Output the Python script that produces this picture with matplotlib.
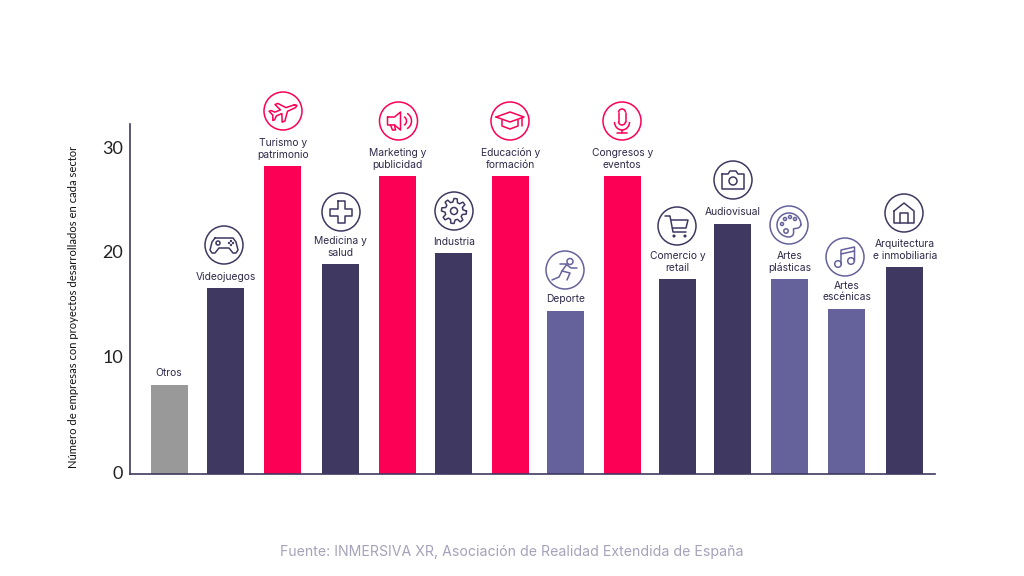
import numpy as np
import matplotlib
matplotlib.use("Agg")
import matplotlib.pyplot as plt
from matplotlib.patches import Circle, Arc
from matplotlib.transforms import ScaledTranslation

categories = ["Otros", "Videojuegos", "Turismo y\npatrimonio", "Medicina y\nsalud",
              "Marketing y\npublicidad", "Industria", "Educación y\nformación", "Deporte",
              "Congresos y\neventos", "Comercio y\nretail", "Audiovisual", "Artes\nplásticas",
              "Artes\nescénicas", "Arquitectura\ne inmobiliaria"]
values = [8.2, 17.1, 28.3, 19.3, 27.4, 20.3, 27.4, 15.0, 27.4, 17.9, 23.0, 17.9, 15.2, 19.0]
groups = ["o", "d", "p", "d", "p", "d", "p", "m", "p", "d", "d", "m", "m", "d"]
y_ticks = [0, 10, 20, 30]

PINK, DARK, MID, GREY = "#FB0055", "#3F3860", "#65629B", "#999999"
COLORS = {"o": GREY, "d": DARK, "p": PINK, "m": MID}
W, H = 1024, 576
LABEL_FONT = ["Inter", "DejaVu Sans"]

fig = plt.figure(figsize=(W / 100, H / 100), dpi=100, facecolor="white")
ax = fig.add_axes([129.5 / W, 1 - 474 / H, (935 - 129.5) / W, (474 - 124) / H])

# bars on the original are not evenly spaced, small shifts in pixels
nudge_px = np.array([0, 0, 0.3, 1.2, 2.1, 1.5, 1.4, 0.3, 0.2, -0.9, -2.5, -2.1, -1.7, -0.3])
x = np.arange(len(values)) + nudge_px / 56.6
ax.bar(x, values, width=0.65, color=[COLORS[g] for g in groups])
ax.set_xlim(-0.70, 13.53)
ax.set_ylim(0, 350 / 10.87)
ax.set_xticks([])
ax.set_yticks(y_ticks)
ax.tick_params(axis="y", length=0, pad=4.5, labelsize=13, labelcolor="#222222")
for lab in ax.get_yticklabels():
    lab.set_fontfamily("Lato")

# the labels on the original do not sit exactly on the scale
offsets = [1.3, 6, 3.4, 0]
for lab, dy in zip(ax.get_yticklabels(), offsets):
    lab.set_transform(lab.get_transform() + ScaledTranslation(0, dy / 72, fig.dpi_scale_trans))

for s in ["top", "right"]:
    ax.spines[s].set_visible(False)
for s in ["left", "bottom"]:
    ax.spines[s].set_color(DARK)
    ax.spines[s].set_linewidth(1.2)

for xi, name, val in zip(x, categories, values):
    ax.annotate(name, xy=(xi, val), xytext=(0, 6.5), textcoords="offset pixels",
                ha="center", va="bottom", fontsize=7.4, color="#2E2A4A",
                family=LABEL_FONT, linespacing=1.22)

fig.text(74 / W, 1 - 307 / H, "Número de empresas con proyectos desarrollados en cada sector",
         rotation=90, ha="center", va="center", fontsize=8.1, family="Lato", color="#111111")
fig.text(512 / W, 1 - 552 / H, "Fuente: INMERSIVA XR, Asociación de Realidad Extendida de España",
         ha="center", va="center", fontsize=10.2, family=LABEL_FONT, color="#A5A3BA")

# overlay in pixel coordinates for the pictograms
ov = fig.add_axes([0, 0, 1, 1], facecolor="none")
ov.set_xlim(0, W)
ov.set_ylim(H, 0)
ov.axis("off")


def line(cx, cy, pts, c, lw=1.1, closed=False):
    pts = np.array(pts, dtype=float)
    if closed:
        pts = np.vstack([pts, pts[0]])
    ov.plot(cx + pts[:, 0], cy + pts[:, 1], color=c, lw=lw, solid_capstyle="round",
            solid_joinstyle="round")


def circ(cx, cy, r, c, lw=1.1, fill="none"):
    ov.add_patch(Circle((cx, cy), r, fc=fill, ec=c, lw=lw))


def arc(cx, cy, w, h, a, b, c, lw=1.1):
    ov.add_patch(Arc((cx, cy), w, h, theta1=a, theta2=b, ec=c, lw=lw))


def plane(cx, cy, c):
    p = np.array([(13, -1.5), (4, -2), (-2, -9), (-5, -9), (-2, -2), (-8, -2), (-11, -5), (-13, -5),
                  (-11, 0), (-13, 5), (-11, 5), (-8, 2), (-2, 2), (-5, 10), (-2, 10), (4, 2),
                  (13, 1.5), (15, 0)], dtype=float)
    t = np.radians(-22)
    r = np.array([[np.cos(t), -np.sin(t)], [np.sin(t), np.cos(t)]])
    line(cx, cy, p @ r.T, c, closed=True)


def gamepad(cx, cy, c):
    line(cx, cy, [(-9, -7), (9, -7), (12, -3), (14, 5), (12, 8), (9, 8), (5, 3), (-5, 3), (-9, 8),
                  (-12, 8), (-14, 5), (-12, -3)], c, closed=True)
    circ(cx - 6, cy - 2, 2, c)
    for dx, dy in [(5, -2), (9, -2), (7, -4), (7, 0)]:
        circ(cx + dx, cy + dy, 0.6, c, lw=0.8, fill=c)


def cross(cx, cy, c):
    line(cx, cy, [(-3.5, -11), (3.5, -11), (3.5, -3.5), (11, -3.5), (11, 3.5), (3.5, 3.5), (3.5, 11),
                  (-3.5, 11), (-3.5, 3.5), (-11, 3.5), (-11, -3.5), (-3.5, -3.5)], c, closed=True)


def megaphone(cx, cy, c):
    line(cx, cy, [(-11, -4), (-4, -4), (2, -9), (2, 9), (-4, 4), (-11, 4)], c, closed=True)
    line(cx, cy, [(-8, 4), (-6, 9), (-3, 9), (-4, 4)], c)
    arc(cx + 4, cy, 8, 9, -70, 70, c)
    arc(cx + 5, cy, 16, 17, -65, 65, c)


def gear(cx, cy, c):
    ang = np.linspace(0, 2 * np.pi, 49)[:-1]
    rad = np.where(np.arange(48) % 6 < 3, 12.5, 9)
    line(cx, cy, np.c_[rad * np.cos(ang), rad * np.sin(ang)], c, closed=True)
    circ(cx, cy, 3.5, c)


def cap(cx, cy, c):
    line(cx, cy, [(-14, -4), (0, -9), (14, -4), (0, 1)], c, closed=True)
    line(cx, cy, [(-8, -1), (-8, 5), (0, 8), (8, 5), (8, -1)], c)
    line(cx, cy, [(12, -3), (12, 5)], c)


def runner(cx, cy, c):
    circ(cx + 5, cy - 8.5, 3, c)
    line(cx, cy, [(-5, -6), (2, -6), (-3, 1), (5, 3), (2, 10)], c)
    line(cx, cy, [(-3, 1), (-6, 7), (-13, 10)], c)
    line(cx, cy, [(2, -5), (6, -2), (12, -2)], c)


def mic(cx, cy, c):
    arc(cx, cy - 8.5, 7, 7, 180, 360, c)
    arc(cx, cy + 0.5, 7, 7, 0, 180, c)
    line(cx, cy, [(-3.5, -8.5), (-3.5, 0.5)], c)
    line(cx, cy, [(3.5, -8.5), (3.5, 0.5)], c)
    arc(cx, cy + 1, 15, 16, 0, 180, c)
    line(cx, cy, [(0, 9), (0, 11.5)], c)
    line(cx, cy, [(-5, 11.5), (5, 11.5)], c)


def cart(cx, cy, c):
    line(cx, cy, [(-12, -10), (-7, -10), (-4, 6), (9, 6)], c)
    line(cx, cy, [(-6, -6), (11, -6), (9, 2), (-4.5, 2)], c)
    circ(cx - 3, cy + 10, 0.8, c, fill=c)
    circ(cx + 8, cy + 10, 0.8, c, fill=c)


def camera(cx, cy, c):
    line(cx, cy, [(-11, -6), (-5, -6), (-3, -9), (3, -9), (5, -6), (11, -6), (11, 9), (-11, 9)], c, closed=True)
    circ(cx, cy + 1, 4, c)


def palette(cx, cy, c):
    ang = np.linspace(0, 2 * np.pi, 60)
    rad = 12 - 6 * np.exp(-((ang - 0.7) / 0.4) ** 2)
    line(cx, cy, np.c_[rad * np.cos(ang), rad * np.sin(ang)], c)
    for dx, dy in [(-7, -1), (-4, -6), (1, -8), (6, -6)]:
        circ(cx + dx, cy + dy, 1.5, c)
    circ(cx - 3, cy + 6, 2.2, c)


def music(cx, cy, c):
    circ(cx - 7, cy + 7, 3.3, c)
    circ(cx + 6, cy + 4, 3.3, c)
    line(cx, cy, [(-4, 7), (-4, -7), (9.5, -10), (9.5, 4)], c)
    line(cx, cy, [(-4, -3), (9.5, -6)], c)


def house(cx, cy, c):
    line(cx, cy, [(-10, -2), (0, -10), (10, -2), (10, 10), (-10, 10)], c, closed=True)
    line(cx, cy, [(-4, 10), (-4, 0), (4, 0), (4, 10)], c)


icons = [(plane, 283, 111, PINK), (gamepad, 224, 245, DARK), (cross, 341, 212, DARK),
         (megaphone, 398.5, 121, PINK), (gear, 454, 211, DARK), (cap, 510, 121, PINK),
         (runner, 565, 270, MID), (mic, 622, 121, PINK), (cart, 677, 226, DARK),
         (camera, 733, 180, DARK), (palette, 789, 225, MID), (music, 845, 257, MID),
         (house, 904, 213, DARK)]
for draw, cx, cy, col in icons:
    circ(cx, cy, 19, col)
    draw(cx, cy, col)

fig.savefig("out.png", dpi=100)
